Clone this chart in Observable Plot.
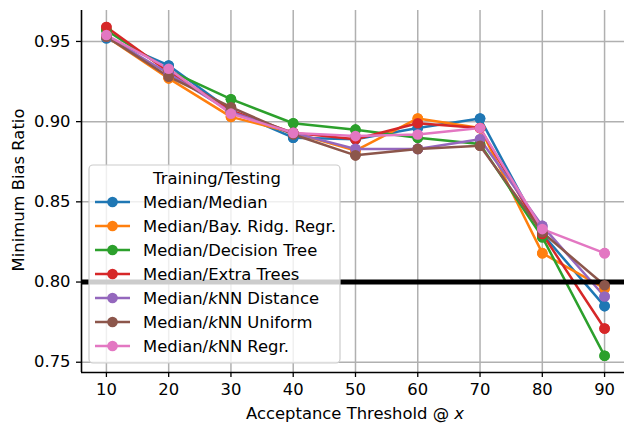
<!DOCTYPE html>
<html>
<head>
<meta charset="utf-8">
<script src="https://cdn.jsdelivr.net/npm/d3@7"></script>
<script src="https://cdn.jsdelivr.net/npm/@observablehq/plot@0.6"></script>
<style>
  html, body { margin: 0; padding: 0; background: #fff; }
  #chart { width: 624px; height: 425px; overflow: hidden; }
</style>
</head>
<body>
<div id="chart"></div>
<script>
// ---- data ----
const thresholds = [10, 20, 30, 40, 50, 60, 70, 80, 90];
const seriesNames = [
  "Median/Median",
  "Median/Bay. Ridg. Regr.",
  "Median/Decision Tree",
  "Median/Extra Trees",
  "Median/kNN Distance",
  "Median/kNN Uniform",
  "Median/kNN Regr."
];
const colors = ["#1f77b4", "#ff7f0e", "#2ca02c", "#d62728", "#9467bd", "#8c564b", "#e377c2"];
const medianMedian   = [0.952, 0.935, 0.907, 0.890, 0.889, 0.896, 0.902, 0.830, 0.785];
const medianBayRidg  = [0.953, 0.927, 0.903, 0.893, 0.882, 0.902, 0.896, 0.818, 0.796];
const medianDecTree  = [0.957, 0.932, 0.914, 0.899, 0.895, 0.890, 0.886, 0.828, 0.754];
const medianExtra    = [0.959, 0.931, 0.907, 0.893, 0.889, 0.899, 0.896, 0.830, 0.771];
const medianKnnDist  = [0.953, 0.930, 0.906, 0.893, 0.883, 0.883, 0.889, 0.835, 0.791];
const medianKnnUni   = [0.953, 0.928, 0.909, 0.892, 0.879, 0.883, 0.885, 0.831, 0.798];
const medianKnnRegr  = [0.954, 0.933, 0.905, 0.893, 0.891, 0.892, 0.896, 0.833, 0.818];
const seriesValues = [medianMedian, medianBayRidg, medianDecTree, medianExtra, medianKnnDist, medianKnnUni, medianKnnRegr];
const xTicks = [10, 20, 30, 40, 50, 60, 70, 80, 90];
const yTicks = [0.75, 0.80, 0.85, 0.90, 0.95];
const threshold = [0.80];
const xDomain = [6, 93.2];
const yDomain = [0.7436, 0.9693];

// ---- build rows ----
const rowsBySeries = seriesNames.map((name, i) =>
  thresholds.map((t, j) => ({x: t, y: seriesValues[i][j], s: name}))
);

const LW = 2.5, R = 5.3, FS = 16.4;
const marks = [
  Plot.gridX(xTicks, {stroke: "#b0b0b0", strokeOpacity: 1, strokeWidth: 1.5}),
  Plot.gridY(yTicks, {stroke: "#b0b0b0", strokeOpacity: 1, strokeWidth: 1.5})
];
rowsBySeries.forEach((rows, i) => {
  marks.push(Plot.line(rows, {x: "x", y: "y", stroke: colors[i], strokeWidth: LW}));
  marks.push(Plot.dot(rows, {x: "x", y: "y", fill: colors[i], r: R}));
});
marks.push(Plot.ruleY(threshold, {stroke: "black", strokeWidth: 5}));
rowsBySeries.forEach((rows, i) => {
  marks.push(Plot.dot(rows, {x: "x", y: "y", fill: colors[i], r: R}));
});
marks.push(Plot.ruleX([xDomain[0]], {stroke: "black", strokeWidth: 1.6}));
marks.push(Plot.ruleY([yDomain[0]], {stroke: "black", strokeWidth: 1.6}));
marks.push(Plot.axisX(xTicks, {tickSize: 5, tickPadding: 6, fontSize: FS, tickFormat: d => String(d), label: null, stroke: "black", strokeWidth: 1.3}));
marks.push(Plot.axisY(yTicks, {tickSize: 5, tickPadding: 6, fontSize: FS, tickFormat: d3.format(".2f"), label: null, stroke: "black", strokeWidth: 1.3}));

const chart = Plot.plot({
  width: 624,
  height: 425,
  marginLeft: 81,
  marginRight: 0,
  marginTop: 10,
  marginBottom: 53,
  style: {fontFamily: "DejaVu Sans", fontSize: FS + "px", color: "black", background: "white", overflow: "visible"},
  x: {domain: xDomain},
  y: {domain: yDomain},
  marks
});
document.getElementById("chart").appendChild(chart);

// ---- axis titles and legend (SVG overlays) ----
const svg = d3.select(chart);
svg.append("text")
  .attr("transform", "translate(18,190) rotate(-90)")
  .attr("text-anchor", "middle").attr("dy", "0.35em")
  .attr("font-size", FS).attr("font-family", "DejaVu Sans").attr("fill", "black")
  .text("Minimum Bias Ratio");
const xl = svg.append("text")
  .attr("x", 355).attr("y", 413)
  .attr("text-anchor", "middle").attr("dy", "0.35em")
  .attr("font-size", FS).attr("font-family", "DejaVu Sans").attr("fill", "black");
xl.append("tspan").text("Acceptance Threshold @ ");
xl.append("tspan").attr("font-style", "italic").text("x");

const lg = svg.append("g").attr("font-family", "DejaVu Sans").attr("font-size", FS);
lg.append("rect")
  .attr("x", 89).attr("y", 165).attr("width", 251).attr("height", 198)
  .attr("rx", 4).attr("fill", "white").attr("fill-opacity", 0.8)
  .attr("stroke", "#cccccc").attr("stroke-width", 1.2);
lg.append("text").attr("x", 217).attr("y", 178).attr("dy", "0.35em")
  .attr("text-anchor", "middle").attr("fill", "black").text("Training/Testing");
seriesNames.forEach((name, i) => {
  const y = 202 + 24 * i;
  lg.append("line").attr("x1", 95).attr("x2", 130).attr("y1", y).attr("y2", y)
    .attr("stroke", colors[i]).attr("stroke-width", LW);
  lg.append("circle").attr("cx", 112.5).attr("cy", y).attr("r", R).attr("fill", colors[i]);
  const t = lg.append("text").attr("x", 143).attr("y", y).attr("dy", "0.35em")
    .attr("text-anchor", "start").attr("fill", "black");
  const m = name.match(/^(Median\/)k(NN .*)$/);
  if (m) {
    t.append("tspan").text(m[1]);
    t.append("tspan").attr("font-style", "italic").text("k");
    t.append("tspan").text(m[2]);
  } else {
    t.text(name);
  }
});
</script>
</body>
</html>
